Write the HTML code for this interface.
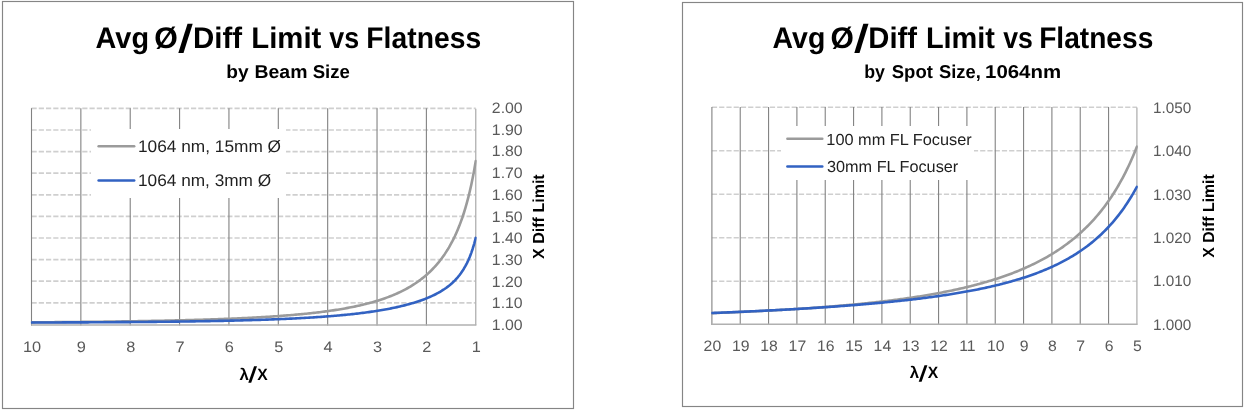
<!DOCTYPE html>
<html><head><meta charset="utf-8"><title>Avg &#216;/Diff Limit vs Flatness</title>
<style>html,body{margin:0;padding:0;background:#fff;}svg{display:block;will-change:transform;}text{font-family:"Liberation Sans", sans-serif;text-rendering:geometricPrecision;}</style></head><body>
<svg width="1246" height="410" viewBox="0 0 1246 410" font-family='"Liberation Sans", sans-serif'>
<rect x="0" y="0" width="1246" height="410" fill="#fff"/>
<rect x="2.50" y="1.50" width="571.00" height="407.00" fill="#fff" stroke="#858585" stroke-width="1.15"/>
<line x1="31.50" y1="108.40" x2="475.75" y2="108.40" stroke="#cfcfcf" stroke-width="1.7" stroke-dasharray="5.2 2.05" stroke-dashoffset="0.00"/>
<line x1="31.50" y1="130.00" x2="475.75" y2="130.00" stroke="#cfcfcf" stroke-width="1.7" stroke-dasharray="5.2 2.05" stroke-dashoffset="0.00"/>
<line x1="31.50" y1="151.60" x2="475.75" y2="151.60" stroke="#cfcfcf" stroke-width="1.7" stroke-dasharray="5.2 2.05" stroke-dashoffset="0.00"/>
<line x1="31.50" y1="173.20" x2="475.75" y2="173.20" stroke="#cfcfcf" stroke-width="1.7" stroke-dasharray="5.2 2.05" stroke-dashoffset="0.00"/>
<line x1="31.50" y1="194.80" x2="475.75" y2="194.80" stroke="#cfcfcf" stroke-width="1.7" stroke-dasharray="5.2 2.05" stroke-dashoffset="0.00"/>
<line x1="31.50" y1="216.40" x2="475.75" y2="216.40" stroke="#cfcfcf" stroke-width="1.7" stroke-dasharray="5.2 2.05" stroke-dashoffset="0.00"/>
<line x1="31.50" y1="238.00" x2="475.75" y2="238.00" stroke="#cfcfcf" stroke-width="1.7" stroke-dasharray="5.2 2.05" stroke-dashoffset="0.00"/>
<line x1="31.50" y1="259.60" x2="475.75" y2="259.60" stroke="#cfcfcf" stroke-width="1.7" stroke-dasharray="5.2 2.05" stroke-dashoffset="0.00"/>
<line x1="31.50" y1="281.20" x2="475.75" y2="281.20" stroke="#cfcfcf" stroke-width="1.7" stroke-dasharray="5.2 2.05" stroke-dashoffset="0.00"/>
<line x1="31.50" y1="302.80" x2="475.75" y2="302.80" stroke="#cfcfcf" stroke-width="1.7" stroke-dasharray="5.2 2.05" stroke-dashoffset="0.00"/>
<line x1="31.50" y1="108.20" x2="31.50" y2="325.60" stroke="#828282" stroke-width="1.1"/>
<line x1="80.86" y1="108.20" x2="80.86" y2="325.60" stroke="#828282" stroke-width="1.1"/>
<line x1="130.22" y1="108.20" x2="130.22" y2="325.60" stroke="#828282" stroke-width="1.1"/>
<line x1="179.58" y1="108.20" x2="179.58" y2="325.60" stroke="#828282" stroke-width="1.1"/>
<line x1="228.94" y1="108.20" x2="228.94" y2="325.60" stroke="#828282" stroke-width="1.1"/>
<line x1="278.31" y1="108.20" x2="278.31" y2="325.60" stroke="#828282" stroke-width="1.1"/>
<line x1="327.67" y1="108.20" x2="327.67" y2="325.60" stroke="#828282" stroke-width="1.1"/>
<line x1="377.03" y1="108.20" x2="377.03" y2="325.60" stroke="#828282" stroke-width="1.1"/>
<line x1="426.39" y1="108.20" x2="426.39" y2="325.60" stroke="#828282" stroke-width="1.1"/>
<line x1="475.75" y1="108.70" x2="475.75" y2="325.30" stroke="#b0b0b0" stroke-width="1.3"/>
<line x1="31.00" y1="324.95" x2="476.35" y2="324.95" stroke="#b0b0b0" stroke-width="1.5"/>
<rect x="91.00" y="129.00" width="195.00" height="69.00" fill="#fff"/>
<clipPath id="clipL"><rect x="30.90" y="106.70" width="445.75" height="220.00"/></clipPath>
<g clip-path="url(#clipL)" fill="none" stroke-width="2.60" stroke-linejoin="round" stroke-linecap="round">
<path d="M31.50 322.36 L32.99 322.35 L34.47 322.34 L35.96 322.32 L37.44 322.31 L38.93 322.30 L40.41 322.29 L41.90 322.28 L43.39 322.27 L44.87 322.26 L46.36 322.24 L47.84 322.23 L49.33 322.22 L50.82 322.21 L52.30 322.20 L53.79 322.18 L55.27 322.17 L56.76 322.16 L58.24 322.14 L59.73 322.13 L61.22 322.12 L62.70 322.10 L64.19 322.09 L65.67 322.08 L67.16 322.06 L68.64 322.05 L70.13 322.03 L71.62 322.02 L73.10 322.01 L74.59 321.99 L76.07 321.98 L77.56 321.96 L79.05 321.95 L80.53 321.93 L82.02 321.91 L83.50 321.90 L84.99 321.88 L86.47 321.87 L87.96 321.85 L89.45 321.83 L90.93 321.82 L92.42 321.80 L93.90 321.78 L95.39 321.77 L96.87 321.75 L98.36 321.73 L99.85 321.71 L101.33 321.69 L102.82 321.68 L104.30 321.66 L105.79 321.64 L107.28 321.62 L108.76 321.60 L110.25 321.58 L111.73 321.56 L113.22 321.54 L114.70 321.52 L116.19 321.50 L117.68 321.48 L119.16 321.46 L120.65 321.44 L122.13 321.41 L123.62 321.39 L125.10 321.37 L126.59 321.35 L128.08 321.32 L129.56 321.30 L131.05 321.28 L132.53 321.25 L134.02 321.23 L135.51 321.21 L136.99 321.18 L138.48 321.16 L139.96 321.13 L141.45 321.11 L142.93 321.08 L144.42 321.05 L145.91 321.03 L147.39 321.00 L148.88 320.97 L150.36 320.94 L151.85 320.92 L153.33 320.89 L154.82 320.86 L156.31 320.83 L157.79 320.80 L159.28 320.77 L160.76 320.74 L162.25 320.71 L163.73 320.68 L165.22 320.65 L166.71 320.61 L168.19 320.58 L169.68 320.55 L171.16 320.51 L172.65 320.48 L174.14 320.45 L175.62 320.41 L177.11 320.38 L178.59 320.34 L180.08 320.30 L181.56 320.27 L183.05 320.23 L184.54 320.19 L186.02 320.15 L187.51 320.11 L188.99 320.07 L190.48 320.03 L191.96 319.99 L193.45 319.95 L194.94 319.91 L196.42 319.87 L197.91 319.82 L199.39 319.78 L200.88 319.74 L202.37 319.69 L203.85 319.64 L205.34 319.60 L206.82 319.55 L208.31 319.50 L209.79 319.45 L211.28 319.40 L212.77 319.35 L214.25 319.30 L215.74 319.25 L217.22 319.20 L218.71 319.14 L220.19 319.09 L221.68 319.04 L223.17 318.98 L224.65 318.92 L226.14 318.86 L227.62 318.81 L229.11 318.75 L230.60 318.69 L232.08 318.62 L233.57 318.56 L235.05 318.50 L236.54 318.43 L238.02 318.37 L239.51 318.30 L241.00 318.23 L242.48 318.16 L243.97 318.09 L245.45 318.02 L246.94 317.95 L248.42 317.88 L249.91 317.80 L251.40 317.72 L252.88 317.65 L254.37 317.57 L255.85 317.49 L257.34 317.41 L258.83 317.32 L260.31 317.24 L261.80 317.15 L263.28 317.06 L264.77 316.97 L266.25 316.88 L267.74 316.79 L269.23 316.70 L270.71 316.60 L272.20 316.50 L273.68 316.40 L275.17 316.30 L276.65 316.20 L278.14 316.10 L279.63 315.99 L281.11 315.88 L282.60 315.77 L284.08 315.66 L285.57 315.54 L287.06 315.42 L288.54 315.31 L290.03 315.18 L291.51 315.06 L293.00 314.93 L294.48 314.80 L295.97 314.67 L297.46 314.54 L298.94 314.40 L300.43 314.26 L301.91 314.12 L303.40 313.98 L304.88 313.83 L306.37 313.68 L307.86 313.52 L309.34 313.37 L310.83 313.21 L312.31 313.04 L313.80 312.88 L315.29 312.71 L316.77 312.53 L318.26 312.35 L319.74 312.17 L321.23 311.99 L322.71 311.80 L324.20 311.61 L325.69 311.41 L327.17 311.21 L328.66 311.00 L330.14 310.79 L331.63 310.58 L333.11 310.36 L334.60 310.13 L336.09 309.90 L337.57 309.67 L339.06 309.43 L340.54 309.18 L342.03 308.93 L343.52 308.67 L345.00 308.41 L346.49 308.14 L347.97 307.86 L349.46 307.58 L350.94 307.29 L352.43 306.99 L353.92 306.69 L355.40 306.38 L356.89 306.06 L358.37 305.73 L359.86 305.40 L361.34 305.06 L362.83 304.71 L364.32 304.35 L365.80 303.98 L367.29 303.60 L368.77 303.21 L370.26 302.81 L371.74 302.40 L373.23 301.98 L374.72 301.55 L376.20 301.11 L377.69 300.65 L379.17 300.19 L380.66 299.71 L382.15 299.22 L383.63 298.71 L385.12 298.19 L386.60 297.65 L388.09 297.10 L389.57 296.53 L391.06 295.95 L392.55 295.35 L394.03 294.73 L395.52 294.09 L397.00 293.44 L398.49 292.76 L399.97 292.07 L401.46 291.35 L402.95 290.61 L404.43 289.84 L405.92 289.05 L407.40 288.24 L408.89 287.40 L410.38 286.53 L411.86 285.63 L413.35 284.70 L414.83 283.74 L416.32 282.74 L417.80 281.71 L419.29 280.64 L420.78 279.54 L422.26 278.39 L423.75 277.20 L425.23 275.97 L426.72 274.69 L428.20 273.35 L429.69 271.97 L431.18 270.53 L432.66 269.03 L434.15 267.47 L435.63 265.83 L437.12 264.13 L438.61 262.36 L440.09 260.50 L441.58 258.56 L443.06 256.52 L444.55 254.39 L446.03 252.15 L447.52 249.80 L449.01 247.32 L450.49 244.72 L451.98 241.97 L453.46 239.06 L454.95 235.99 L456.43 232.73 L457.92 229.27 L459.41 225.59 L460.89 221.66 L462.38 217.47 L463.86 212.98 L465.35 208.16 L466.84 202.98 L468.32 197.38 L469.81 191.31 L471.29 184.72 L472.78 177.53 L474.26 169.66 L475.75 161.00" stroke="#9b9b9b"/>
<path d="M31.50 322.50 L32.99 322.50 L34.47 322.49 L35.96 322.49 L37.44 322.49 L38.93 322.49 L40.41 322.48 L41.90 322.48 L43.39 322.48 L44.87 322.47 L46.36 322.47 L47.84 322.47 L49.33 322.46 L50.82 322.46 L52.30 322.45 L53.79 322.45 L55.27 322.45 L56.76 322.44 L58.24 322.44 L59.73 322.43 L61.22 322.43 L62.70 322.42 L64.19 322.42 L65.67 322.41 L67.16 322.41 L68.64 322.40 L70.13 322.40 L71.62 322.39 L73.10 322.39 L74.59 322.38 L76.07 322.38 L77.56 322.37 L79.05 322.37 L80.53 322.36 L82.02 322.35 L83.50 322.35 L84.99 322.34 L86.47 322.33 L87.96 322.33 L89.45 322.32 L90.93 322.31 L92.42 322.31 L93.90 322.30 L95.39 322.29 L96.87 322.28 L98.36 322.28 L99.85 322.27 L101.33 322.26 L102.82 322.25 L104.30 322.24 L105.79 322.23 L107.28 322.23 L108.76 322.22 L110.25 322.21 L111.73 322.20 L113.22 322.19 L114.70 322.18 L116.19 322.17 L117.68 322.16 L119.16 322.15 L120.65 322.14 L122.13 322.13 L123.62 322.12 L125.10 322.11 L126.59 322.10 L128.08 322.09 L129.56 322.08 L131.05 322.06 L132.53 322.05 L134.02 322.04 L135.51 322.03 L136.99 322.02 L138.48 322.00 L139.96 321.99 L141.45 321.98 L142.93 321.97 L144.42 321.95 L145.91 321.94 L147.39 321.93 L148.88 321.91 L150.36 321.90 L151.85 321.88 L153.33 321.87 L154.82 321.85 L156.31 321.84 L157.79 321.82 L159.28 321.81 L160.76 321.79 L162.25 321.78 L163.73 321.76 L165.22 321.74 L166.71 321.73 L168.19 321.71 L169.68 321.69 L171.16 321.67 L172.65 321.65 L174.14 321.64 L175.62 321.62 L177.11 321.60 L178.59 321.58 L180.08 321.56 L181.56 321.54 L183.05 321.52 L184.54 321.50 L186.02 321.48 L187.51 321.46 L188.99 321.43 L190.48 321.41 L191.96 321.39 L193.45 321.37 L194.94 321.34 L196.42 321.32 L197.91 321.30 L199.39 321.27 L200.88 321.25 L202.37 321.22 L203.85 321.20 L205.34 321.17 L206.82 321.15 L208.31 321.12 L209.79 321.09 L211.28 321.06 L212.77 321.04 L214.25 321.01 L215.74 320.98 L217.22 320.95 L218.71 320.92 L220.19 320.89 L221.68 320.86 L223.17 320.83 L224.65 320.79 L226.14 320.76 L227.62 320.73 L229.11 320.69 L230.60 320.66 L232.08 320.62 L233.57 320.59 L235.05 320.55 L236.54 320.52 L238.02 320.48 L239.51 320.44 L241.00 320.40 L242.48 320.36 L243.97 320.32 L245.45 320.28 L246.94 320.24 L248.42 320.20 L249.91 320.16 L251.40 320.11 L252.88 320.07 L254.37 320.02 L255.85 319.98 L257.34 319.93 L258.83 319.88 L260.31 319.84 L261.80 319.79 L263.28 319.74 L264.77 319.69 L266.25 319.63 L267.74 319.58 L269.23 319.53 L270.71 319.47 L272.20 319.42 L273.68 319.36 L275.17 319.30 L276.65 319.24 L278.14 319.18 L279.63 319.12 L281.11 319.06 L282.60 319.00 L284.08 318.93 L285.57 318.87 L287.06 318.80 L288.54 318.73 L290.03 318.66 L291.51 318.59 L293.00 318.52 L294.48 318.45 L295.97 318.37 L297.46 318.30 L298.94 318.22 L300.43 318.14 L301.91 318.06 L303.40 317.98 L304.88 317.89 L306.37 317.81 L307.86 317.72 L309.34 317.63 L310.83 317.54 L312.31 317.45 L313.80 317.35 L315.29 317.26 L316.77 317.16 L318.26 317.06 L319.74 316.96 L321.23 316.85 L322.71 316.75 L324.20 316.64 L325.69 316.53 L327.17 316.42 L328.66 316.30 L330.14 316.19 L331.63 316.07 L333.11 315.94 L334.60 315.82 L336.09 315.69 L337.57 315.56 L339.06 315.43 L340.54 315.29 L342.03 315.16 L343.52 315.01 L345.00 314.87 L346.49 314.72 L347.97 314.57 L349.46 314.42 L350.94 314.26 L352.43 314.10 L353.92 313.94 L355.40 313.77 L356.89 313.60 L358.37 313.43 L359.86 313.25 L361.34 313.06 L362.83 312.88 L364.32 312.69 L365.80 312.49 L367.29 312.29 L368.77 312.09 L370.26 311.88 L371.74 311.66 L373.23 311.44 L374.72 311.22 L376.20 310.99 L377.69 310.76 L379.17 310.52 L380.66 310.27 L382.15 310.02 L383.63 309.76 L385.12 309.50 L386.60 309.22 L388.09 308.95 L389.57 308.66 L391.06 308.37 L392.55 308.07 L394.03 307.76 L395.52 307.45 L397.00 307.12 L398.49 306.79 L399.97 306.45 L401.46 306.10 L402.95 305.74 L404.43 305.37 L405.92 304.99 L407.40 304.60 L408.89 304.20 L410.38 303.78 L411.86 303.36 L413.35 302.92 L414.83 302.46 L416.32 302.00 L417.80 301.51 L419.29 301.02 L420.78 300.50 L422.26 299.97 L423.75 299.42 L425.23 298.85 L426.72 298.26 L428.20 297.65 L429.69 297.02 L431.18 296.36 L432.66 295.67 L434.15 294.96 L435.63 294.22 L437.12 293.44 L438.61 292.63 L440.09 291.78 L441.58 290.89 L443.06 289.96 L444.55 288.98 L446.03 287.95 L447.52 286.85 L449.01 285.70 L450.49 284.48 L451.98 283.18 L453.46 281.80 L454.95 280.32 L456.43 278.74 L457.92 277.04 L459.41 275.21 L460.89 273.22 L462.38 271.07 L463.86 268.72 L465.35 266.15 L466.84 263.33 L468.32 260.20 L469.81 256.73 L471.29 252.86 L472.78 248.49 L474.26 243.56 L475.75 237.93" stroke="#3262c2"/>
</g>
<line x1="98.60" y1="146.30" x2="134.20" y2="146.30" stroke="#9b9b9b" stroke-width="2.5" stroke-linecap="round"/>
<text x="137.99" y="152.10" font-size="16.90" font-weight="normal" fill="#1f1f1f" text-anchor="start" textLength="143.09" lengthAdjust="spacingAndGlyphs">1064 nm, 15mm &#216;</text>
<line x1="98.60" y1="180.50" x2="134.20" y2="180.50" stroke="#3262c2" stroke-width="2.5" stroke-linecap="round"/>
<text x="137.99" y="186.30" font-size="16.90" font-weight="normal" fill="#1f1f1f" text-anchor="start" textLength="133.18" lengthAdjust="spacingAndGlyphs">1064 nm, 3mm &#216;</text>
<text x="491.86" y="112.80" font-size="15.20" font-weight="normal" fill="#595959" text-anchor="start" textLength="30.80" lengthAdjust="spacingAndGlyphs">2.00</text>
<text x="491.86" y="134.54" font-size="15.20" font-weight="normal" fill="#595959" text-anchor="start" textLength="30.80" lengthAdjust="spacingAndGlyphs">1.90</text>
<text x="491.86" y="156.28" font-size="15.20" font-weight="normal" fill="#595959" text-anchor="start" textLength="30.80" lengthAdjust="spacingAndGlyphs">1.80</text>
<text x="491.86" y="178.02" font-size="15.20" font-weight="normal" fill="#595959" text-anchor="start" textLength="30.80" lengthAdjust="spacingAndGlyphs">1.70</text>
<text x="491.86" y="199.76" font-size="15.20" font-weight="normal" fill="#595959" text-anchor="start" textLength="30.80" lengthAdjust="spacingAndGlyphs">1.60</text>
<text x="491.86" y="221.50" font-size="15.20" font-weight="normal" fill="#595959" text-anchor="start" textLength="30.80" lengthAdjust="spacingAndGlyphs">1.50</text>
<text x="491.86" y="243.24" font-size="15.20" font-weight="normal" fill="#595959" text-anchor="start" textLength="30.80" lengthAdjust="spacingAndGlyphs">1.40</text>
<text x="491.86" y="264.98" font-size="15.20" font-weight="normal" fill="#595959" text-anchor="start" textLength="30.80" lengthAdjust="spacingAndGlyphs">1.30</text>
<text x="491.86" y="286.72" font-size="15.20" font-weight="normal" fill="#595959" text-anchor="start" textLength="30.80" lengthAdjust="spacingAndGlyphs">1.20</text>
<text x="491.86" y="308.46" font-size="15.20" font-weight="normal" fill="#595959" text-anchor="start" textLength="30.80" lengthAdjust="spacingAndGlyphs">1.10</text>
<text x="491.86" y="330.20" font-size="15.20" font-weight="normal" fill="#595959" text-anchor="start" textLength="30.80" lengthAdjust="spacingAndGlyphs">1.00</text>
<text x="32.00" y="351.80" font-size="15.20" font-weight="normal" fill="#595959" text-anchor="middle" textLength="18.19" lengthAdjust="spacingAndGlyphs">10</text>
<text x="81.36" y="351.80" font-size="15.20" font-weight="normal" fill="#595959" text-anchor="middle" textLength="9.10" lengthAdjust="spacingAndGlyphs">9</text>
<text x="130.72" y="351.80" font-size="15.20" font-weight="normal" fill="#595959" text-anchor="middle" textLength="9.10" lengthAdjust="spacingAndGlyphs">8</text>
<text x="180.08" y="351.80" font-size="15.20" font-weight="normal" fill="#595959" text-anchor="middle" textLength="9.10" lengthAdjust="spacingAndGlyphs">7</text>
<text x="229.44" y="351.80" font-size="15.20" font-weight="normal" fill="#595959" text-anchor="middle" textLength="9.10" lengthAdjust="spacingAndGlyphs">6</text>
<text x="278.81" y="351.80" font-size="15.20" font-weight="normal" fill="#595959" text-anchor="middle" textLength="9.10" lengthAdjust="spacingAndGlyphs">5</text>
<text x="328.17" y="351.80" font-size="15.20" font-weight="normal" fill="#595959" text-anchor="middle" textLength="9.10" lengthAdjust="spacingAndGlyphs">4</text>
<text x="377.53" y="351.80" font-size="15.20" font-weight="normal" fill="#595959" text-anchor="middle" textLength="9.10" lengthAdjust="spacingAndGlyphs">3</text>
<text x="426.89" y="351.80" font-size="15.20" font-weight="normal" fill="#595959" text-anchor="middle" textLength="9.10" lengthAdjust="spacingAndGlyphs">2</text>
<text x="476.25" y="351.80" font-size="15.20" font-weight="normal" fill="#595959" text-anchor="middle" textLength="9.10" lengthAdjust="spacingAndGlyphs">1</text>
<polygon points="178.3,52.9 183.5,52.9 192.7,23.7 187.5,23.7" fill="#000"/>
<text x="95.61" y="48.00" font-size="29.80" font-weight="bold" fill="#000" text-anchor="start" textLength="53.43" lengthAdjust="spacingAndGlyphs">Avg</text>
<text x="154.36" y="48.00" font-size="29.80" font-weight="bold" fill="#000" text-anchor="start" textLength="23.58" lengthAdjust="spacingAndGlyphs">&#216;</text>
<text x="192.96" y="48.00" font-size="29.80" font-weight="bold" fill="#000" text-anchor="start" textLength="49.09" lengthAdjust="spacingAndGlyphs">Diff</text>
<text x="251.26" y="48.00" font-size="29.80" font-weight="bold" fill="#000" text-anchor="start" textLength="70.08" lengthAdjust="spacingAndGlyphs">Limit</text>
<text x="329.32" y="48.00" font-size="29.80" font-weight="bold" fill="#000" text-anchor="start" textLength="29.86" lengthAdjust="spacingAndGlyphs">vs</text>
<text x="366.33" y="48.00" font-size="29.80" font-weight="bold" fill="#000" text-anchor="start" textLength="114.80" lengthAdjust="spacingAndGlyphs">Flatness</text>
<text x="226.26" y="78.30" font-size="18.60" font-weight="bold" fill="#000" text-anchor="start" textLength="22.34" lengthAdjust="spacingAndGlyphs">by</text>
<text x="254.52" y="78.30" font-size="18.60" font-weight="bold" fill="#000" text-anchor="start" textLength="52.98" lengthAdjust="spacingAndGlyphs">Beam</text>
<text x="312.68" y="78.30" font-size="18.60" font-weight="bold" fill="#000" text-anchor="start" textLength="37.25" lengthAdjust="spacingAndGlyphs">Size</text>
<text x="239.43" y="379.50" font-size="16.40" font-weight="bold" fill="#000" text-anchor="start" textLength="9.32" lengthAdjust="spacingAndGlyphs">&#955;</text>
<text x="257.37" y="379.50" font-size="16.40" font-weight="bold" fill="#000" text-anchor="start" textLength="10.45" lengthAdjust="spacingAndGlyphs">X</text>
<polygon points="248.30,382.80 251.20,382.80 257.00,366.30 254.10,366.30" fill="#000"/>
<text x="544.50" y="216.60" font-size="16.00" font-weight="bold" fill="#000" text-anchor="middle" textLength="84.60" lengthAdjust="spacingAndGlyphs" transform="rotate(-90 544.50 216.60)">X Diff Limit</text>
<rect x="682.50" y="2.50" width="560.00" height="404.00" fill="#fff" stroke="#858585" stroke-width="1.15"/>
<line x1="711.90" y1="107.25" x2="1136.90" y2="107.25" stroke="#cfcfcf" stroke-width="1.7" stroke-dasharray="5.2 2.05" stroke-dashoffset="0.00"/>
<line x1="711.90" y1="150.75" x2="1136.90" y2="150.75" stroke="#cfcfcf" stroke-width="1.7" stroke-dasharray="5.2 2.05" stroke-dashoffset="0.00"/>
<line x1="711.90" y1="194.25" x2="1136.90" y2="194.25" stroke="#cfcfcf" stroke-width="1.7" stroke-dasharray="5.2 2.05" stroke-dashoffset="0.00"/>
<line x1="711.90" y1="237.75" x2="1136.90" y2="237.75" stroke="#cfcfcf" stroke-width="1.7" stroke-dasharray="5.2 2.05" stroke-dashoffset="0.00"/>
<line x1="711.90" y1="281.25" x2="1136.90" y2="281.25" stroke="#cfcfcf" stroke-width="1.7" stroke-dasharray="5.2 2.05" stroke-dashoffset="0.00"/>
<line x1="711.90" y1="106.90" x2="711.90" y2="325.00" stroke="#828282" stroke-width="1.1"/>
<line x1="740.23" y1="106.90" x2="740.23" y2="325.00" stroke="#828282" stroke-width="1.1"/>
<line x1="768.57" y1="106.90" x2="768.57" y2="325.00" stroke="#828282" stroke-width="1.1"/>
<line x1="796.90" y1="106.90" x2="796.90" y2="325.00" stroke="#828282" stroke-width="1.1"/>
<line x1="825.23" y1="106.90" x2="825.23" y2="325.00" stroke="#828282" stroke-width="1.1"/>
<line x1="853.57" y1="106.90" x2="853.57" y2="325.00" stroke="#828282" stroke-width="1.1"/>
<line x1="881.90" y1="106.90" x2="881.90" y2="325.00" stroke="#828282" stroke-width="1.1"/>
<line x1="910.23" y1="106.90" x2="910.23" y2="325.00" stroke="#828282" stroke-width="1.1"/>
<line x1="938.57" y1="106.90" x2="938.57" y2="325.00" stroke="#828282" stroke-width="1.1"/>
<line x1="966.90" y1="106.90" x2="966.90" y2="325.00" stroke="#828282" stroke-width="1.1"/>
<line x1="995.23" y1="106.90" x2="995.23" y2="325.00" stroke="#828282" stroke-width="1.1"/>
<line x1="1023.57" y1="106.90" x2="1023.57" y2="325.00" stroke="#828282" stroke-width="1.1"/>
<line x1="1051.90" y1="106.90" x2="1051.90" y2="325.00" stroke="#828282" stroke-width="1.1"/>
<line x1="1080.23" y1="106.90" x2="1080.23" y2="325.00" stroke="#828282" stroke-width="1.1"/>
<line x1="1108.57" y1="106.90" x2="1108.57" y2="325.00" stroke="#828282" stroke-width="1.1"/>
<line x1="1136.90" y1="107.40" x2="1136.90" y2="324.70" stroke="#b0b0b0" stroke-width="1.3"/>
<line x1="711.40" y1="324.35" x2="1137.50" y2="324.35" stroke="#b0b0b0" stroke-width="1.5"/>
<rect x="781.00" y="126.00" width="193.00" height="54.00" fill="#fff"/>
<clipPath id="clipR"><rect x="711.30" y="105.40" width="426.50" height="220.70"/></clipPath>
<g clip-path="url(#clipR)" fill="none" stroke-width="2.60" stroke-linejoin="round" stroke-linecap="round">
<path d="M711.90 313.14 L713.32 313.09 L714.74 313.04 L716.16 312.98 L717.59 312.93 L719.01 312.87 L720.43 312.82 L721.85 312.76 L723.27 312.70 L724.69 312.64 L726.11 312.59 L727.54 312.53 L728.96 312.47 L730.38 312.41 L731.80 312.35 L733.22 312.29 L734.64 312.23 L736.06 312.17 L737.49 312.11 L738.91 312.04 L740.33 311.98 L741.75 311.92 L743.17 311.85 L744.59 311.79 L746.01 311.72 L747.44 311.66 L748.86 311.59 L750.28 311.52 L751.70 311.46 L753.12 311.39 L754.54 311.32 L755.96 311.25 L757.38 311.18 L758.81 311.11 L760.23 311.04 L761.65 310.97 L763.07 310.89 L764.49 310.82 L765.91 310.75 L767.33 310.67 L768.76 310.60 L770.18 310.52 L771.60 310.44 L773.02 310.37 L774.44 310.29 L775.86 310.21 L777.28 310.13 L778.71 310.05 L780.13 309.97 L781.55 309.89 L782.97 309.80 L784.39 309.72 L785.81 309.64 L787.23 309.55 L788.66 309.47 L790.08 309.38 L791.50 309.29 L792.92 309.21 L794.34 309.12 L795.76 309.03 L797.18 308.94 L798.61 308.85 L800.03 308.75 L801.45 308.66 L802.87 308.57 L804.29 308.47 L805.71 308.38 L807.13 308.28 L808.56 308.18 L809.98 308.08 L811.40 307.98 L812.82 307.88 L814.24 307.78 L815.66 307.68 L817.08 307.58 L818.51 307.47 L819.93 307.37 L821.35 307.26 L822.77 307.15 L824.19 307.04 L825.61 306.93 L827.03 306.82 L828.46 306.71 L829.88 306.60 L831.30 306.48 L832.72 306.37 L834.14 306.25 L835.56 306.13 L836.98 306.01 L838.41 305.89 L839.83 305.77 L841.25 305.65 L842.67 305.53 L844.09 305.40 L845.51 305.27 L846.93 305.15 L848.35 305.02 L849.78 304.89 L851.20 304.76 L852.62 304.62 L854.04 304.49 L855.46 304.35 L856.88 304.21 L858.30 304.08 L859.73 303.94 L861.15 303.79 L862.57 303.65 L863.99 303.51 L865.41 303.36 L866.83 303.21 L868.25 303.06 L869.68 302.91 L871.10 302.76 L872.52 302.60 L873.94 302.45 L875.36 302.29 L876.78 302.13 L878.20 301.97 L879.63 301.81 L881.05 301.64 L882.47 301.48 L883.89 301.31 L885.31 301.14 L886.73 300.96 L888.15 300.79 L889.58 300.61 L891.00 300.44 L892.42 300.26 L893.84 300.07 L895.26 299.89 L896.68 299.70 L898.10 299.52 L899.53 299.32 L900.95 299.13 L902.37 298.94 L903.79 298.74 L905.21 298.54 L906.63 298.34 L908.05 298.13 L909.48 297.93 L910.90 297.72 L912.32 297.51 L913.74 297.29 L915.16 297.08 L916.58 296.86 L918.00 296.64 L919.43 296.41 L920.85 296.19 L922.27 295.96 L923.69 295.72 L925.11 295.49 L926.53 295.25 L927.95 295.01 L929.37 294.77 L930.80 294.52 L932.22 294.27 L933.64 294.02 L935.06 293.76 L936.48 293.50 L937.90 293.24 L939.32 292.97 L940.75 292.70 L942.17 292.43 L943.59 292.15 L945.01 291.88 L946.43 291.59 L947.85 291.31 L949.27 291.01 L950.70 290.72 L952.12 290.42 L953.54 290.12 L954.96 289.82 L956.38 289.51 L957.80 289.19 L959.22 288.87 L960.65 288.55 L962.07 288.23 L963.49 287.89 L964.91 287.56 L966.33 287.22 L967.75 286.88 L969.17 286.53 L970.60 286.17 L972.02 285.81 L973.44 285.45 L974.86 285.08 L976.28 284.71 L977.70 284.33 L979.12 283.95 L980.55 283.56 L981.97 283.16 L983.39 282.76 L984.81 282.36 L986.23 281.95 L987.65 281.53 L989.07 281.10 L990.50 280.67 L991.92 280.24 L993.34 279.80 L994.76 279.35 L996.18 278.89 L997.60 278.43 L999.02 277.96 L1000.45 277.49 L1001.87 277.00 L1003.29 276.51 L1004.71 276.02 L1006.13 275.51 L1007.55 275.00 L1008.97 274.48 L1010.39 273.95 L1011.82 273.41 L1013.24 272.87 L1014.66 272.31 L1016.08 271.75 L1017.50 271.18 L1018.92 270.60 L1020.34 270.01 L1021.77 269.41 L1023.19 268.81 L1024.61 268.19 L1026.03 267.56 L1027.45 266.92 L1028.87 266.27 L1030.29 265.61 L1031.72 264.94 L1033.14 264.26 L1034.56 263.56 L1035.98 262.86 L1037.40 262.14 L1038.82 261.41 L1040.24 260.67 L1041.67 259.91 L1043.09 259.15 L1044.51 258.36 L1045.93 257.57 L1047.35 256.76 L1048.77 255.93 L1050.19 255.10 L1051.62 254.24 L1053.04 253.37 L1054.46 252.48 L1055.88 251.58 L1057.30 250.66 L1058.72 249.73 L1060.14 248.77 L1061.57 247.80 L1062.99 246.81 L1064.41 245.80 L1065.83 244.77 L1067.25 243.72 L1068.67 242.64 L1070.09 241.55 L1071.52 240.44 L1072.94 239.30 L1074.36 238.14 L1075.78 236.95 L1077.20 235.75 L1078.62 234.51 L1080.04 233.25 L1081.47 231.96 L1082.89 230.65 L1084.31 229.30 L1085.73 227.93 L1087.15 226.53 L1088.57 225.09 L1089.99 223.62 L1091.42 222.12 L1092.84 220.59 L1094.26 219.02 L1095.68 217.41 L1097.10 215.77 L1098.52 214.08 L1099.94 212.35 L1101.36 210.59 L1102.79 208.78 L1104.21 206.92 L1105.63 205.02 L1107.05 203.06 L1108.47 201.06 L1109.89 199.01 L1111.31 196.90 L1112.74 194.73 L1114.16 192.51 L1115.58 190.23 L1117.00 187.88 L1118.42 185.47 L1119.84 182.98 L1121.26 180.43 L1122.69 177.80 L1124.11 175.10 L1125.53 172.31 L1126.95 169.44 L1128.37 166.48 L1129.79 163.43 L1131.21 160.28 L1132.64 157.03 L1134.06 153.68 L1135.48 150.21 L1136.90 146.63" stroke="#9b9b9b"/>
<path d="M711.90 313.02 L713.32 312.97 L714.74 312.91 L716.16 312.85 L717.59 312.80 L719.01 312.74 L720.43 312.68 L721.85 312.62 L723.27 312.57 L724.69 312.51 L726.11 312.45 L727.54 312.39 L728.96 312.33 L730.38 312.27 L731.80 312.21 L733.22 312.15 L734.64 312.09 L736.06 312.03 L737.49 311.96 L738.91 311.90 L740.33 311.84 L741.75 311.78 L743.17 311.71 L744.59 311.65 L746.01 311.59 L747.44 311.52 L748.86 311.46 L750.28 311.39 L751.70 311.32 L753.12 311.26 L754.54 311.19 L755.96 311.12 L757.38 311.06 L758.81 310.99 L760.23 310.92 L761.65 310.85 L763.07 310.78 L764.49 310.71 L765.91 310.64 L767.33 310.57 L768.76 310.50 L770.18 310.42 L771.60 310.35 L773.02 310.28 L774.44 310.21 L775.86 310.13 L777.28 310.06 L778.71 309.98 L780.13 309.91 L781.55 309.83 L782.97 309.75 L784.39 309.68 L785.81 309.60 L787.23 309.52 L788.66 309.44 L790.08 309.36 L791.50 309.28 L792.92 309.20 L794.34 309.12 L795.76 309.04 L797.18 308.96 L798.61 308.87 L800.03 308.79 L801.45 308.71 L802.87 308.62 L804.29 308.54 L805.71 308.45 L807.13 308.36 L808.56 308.28 L809.98 308.19 L811.40 308.10 L812.82 308.01 L814.24 307.92 L815.66 307.83 L817.08 307.74 L818.51 307.65 L819.93 307.55 L821.35 307.46 L822.77 307.36 L824.19 307.27 L825.61 307.17 L827.03 307.08 L828.46 306.98 L829.88 306.88 L831.30 306.78 L832.72 306.68 L834.14 306.58 L835.56 306.48 L836.98 306.38 L838.41 306.28 L839.83 306.17 L841.25 306.07 L842.67 305.96 L844.09 305.86 L845.51 305.75 L846.93 305.64 L848.35 305.53 L849.78 305.42 L851.20 305.31 L852.62 305.20 L854.04 305.08 L855.46 304.97 L856.88 304.86 L858.30 304.74 L859.73 304.62 L861.15 304.51 L862.57 304.39 L863.99 304.27 L865.41 304.15 L866.83 304.02 L868.25 303.90 L869.68 303.78 L871.10 303.65 L872.52 303.52 L873.94 303.40 L875.36 303.27 L876.78 303.14 L878.20 303.01 L879.63 302.87 L881.05 302.74 L882.47 302.61 L883.89 302.47 L885.31 302.33 L886.73 302.19 L888.15 302.05 L889.58 301.91 L891.00 301.77 L892.42 301.62 L893.84 301.48 L895.26 301.33 L896.68 301.18 L898.10 301.03 L899.53 300.88 L900.95 300.73 L902.37 300.57 L903.79 300.42 L905.21 300.26 L906.63 300.10 L908.05 299.94 L909.48 299.78 L910.90 299.61 L912.32 299.45 L913.74 299.28 L915.16 299.11 L916.58 298.94 L918.00 298.77 L919.43 298.59 L920.85 298.42 L922.27 298.24 L923.69 298.06 L925.11 297.88 L926.53 297.69 L927.95 297.50 L929.37 297.32 L930.80 297.13 L932.22 296.93 L933.64 296.74 L935.06 296.54 L936.48 296.34 L937.90 296.14 L939.32 295.94 L940.75 295.73 L942.17 295.52 L943.59 295.31 L945.01 295.10 L946.43 294.88 L947.85 294.67 L949.27 294.44 L950.70 294.22 L952.12 293.99 L953.54 293.77 L954.96 293.53 L956.38 293.30 L957.80 293.06 L959.22 292.82 L960.65 292.58 L962.07 292.33 L963.49 292.08 L964.91 291.83 L966.33 291.57 L967.75 291.32 L969.17 291.05 L970.60 290.79 L972.02 290.52 L973.44 290.25 L974.86 289.97 L976.28 289.69 L977.70 289.41 L979.12 289.12 L980.55 288.83 L981.97 288.53 L983.39 288.23 L984.81 287.93 L986.23 287.62 L987.65 287.31 L989.07 287.00 L990.50 286.67 L991.92 286.35 L993.34 286.02 L994.76 285.69 L996.18 285.35 L997.60 285.00 L999.02 284.65 L1000.45 284.30 L1001.87 283.94 L1003.29 283.58 L1004.71 283.21 L1006.13 282.83 L1007.55 282.45 L1008.97 282.06 L1010.39 281.67 L1011.82 281.27 L1013.24 280.87 L1014.66 280.45 L1016.08 280.04 L1017.50 279.61 L1018.92 279.18 L1020.34 278.74 L1021.77 278.30 L1023.19 277.85 L1024.61 277.39 L1026.03 276.92 L1027.45 276.44 L1028.87 275.96 L1030.29 275.47 L1031.72 274.97 L1033.14 274.46 L1034.56 273.95 L1035.98 273.42 L1037.40 272.89 L1038.82 272.35 L1040.24 271.79 L1041.67 271.23 L1043.09 270.66 L1044.51 270.07 L1045.93 269.48 L1047.35 268.88 L1048.77 268.26 L1050.19 267.63 L1051.62 267.00 L1053.04 266.35 L1054.46 265.68 L1055.88 265.01 L1057.30 264.32 L1058.72 263.62 L1060.14 262.91 L1061.57 262.18 L1062.99 261.43 L1064.41 260.68 L1065.83 259.90 L1067.25 259.12 L1068.67 258.31 L1070.09 257.49 L1071.52 256.65 L1072.94 255.80 L1074.36 254.93 L1075.78 254.04 L1077.20 253.13 L1078.62 252.20 L1080.04 251.25 L1081.47 250.28 L1082.89 249.29 L1084.31 248.28 L1085.73 247.24 L1087.15 246.19 L1088.57 245.11 L1089.99 244.00 L1091.42 242.87 L1092.84 241.71 L1094.26 240.53 L1095.68 239.32 L1097.10 238.08 L1098.52 236.81 L1099.94 235.51 L1101.36 234.18 L1102.79 232.81 L1104.21 231.42 L1105.63 229.98 L1107.05 228.52 L1108.47 227.01 L1109.89 225.47 L1111.31 223.89 L1112.74 222.27 L1114.16 220.60 L1115.58 218.89 L1117.00 217.14 L1118.42 215.34 L1119.84 213.49 L1121.26 211.60 L1122.69 209.65 L1124.11 207.64 L1125.53 205.59 L1126.95 203.47 L1128.37 201.29 L1129.79 199.06 L1131.21 196.75 L1132.64 194.39 L1134.06 191.95 L1135.48 189.44 L1136.90 186.85" stroke="#3262c2"/>
</g>
<line x1="787.40" y1="138.80" x2="822.30" y2="138.80" stroke="#9b9b9b" stroke-width="2.5" stroke-linecap="round"/>
<text x="826.36" y="144.65" font-size="16.10" font-weight="normal" fill="#1f1f1f" text-anchor="start" textLength="145.40" lengthAdjust="spacingAndGlyphs">100 mm FL Focuser</text>
<line x1="787.40" y1="166.40" x2="822.30" y2="166.40" stroke="#3262c2" stroke-width="2.5" stroke-linecap="round"/>
<text x="826.98" y="172.00" font-size="16.10" font-weight="normal" fill="#1f1f1f" text-anchor="start" textLength="131.28" lengthAdjust="spacingAndGlyphs">30mm FL Focuser</text>
<text x="1153.09" y="112.95" font-size="15.20" font-weight="normal" fill="#595959" text-anchor="start" textLength="38.30" lengthAdjust="spacingAndGlyphs">1.050</text>
<text x="1153.09" y="156.29" font-size="15.20" font-weight="normal" fill="#595959" text-anchor="start" textLength="38.30" lengthAdjust="spacingAndGlyphs">1.040</text>
<text x="1153.09" y="199.63" font-size="15.20" font-weight="normal" fill="#595959" text-anchor="start" textLength="38.30" lengthAdjust="spacingAndGlyphs">1.030</text>
<text x="1153.09" y="242.97" font-size="15.20" font-weight="normal" fill="#595959" text-anchor="start" textLength="38.30" lengthAdjust="spacingAndGlyphs">1.020</text>
<text x="1153.09" y="286.31" font-size="15.20" font-weight="normal" fill="#595959" text-anchor="start" textLength="38.30" lengthAdjust="spacingAndGlyphs">1.010</text>
<text x="1153.09" y="329.65" font-size="15.20" font-weight="normal" fill="#595959" text-anchor="start" textLength="38.30" lengthAdjust="spacingAndGlyphs">1.000</text>
<text x="712.40" y="350.60" font-size="15.20" font-weight="normal" fill="#595959" text-anchor="middle" textLength="17.58" lengthAdjust="spacingAndGlyphs">20</text>
<text x="740.73" y="350.60" font-size="15.20" font-weight="normal" fill="#595959" text-anchor="middle" textLength="17.58" lengthAdjust="spacingAndGlyphs">19</text>
<text x="769.07" y="350.60" font-size="15.20" font-weight="normal" fill="#595959" text-anchor="middle" textLength="17.58" lengthAdjust="spacingAndGlyphs">18</text>
<text x="797.40" y="350.60" font-size="15.20" font-weight="normal" fill="#595959" text-anchor="middle" textLength="17.58" lengthAdjust="spacingAndGlyphs">17</text>
<text x="825.73" y="350.60" font-size="15.20" font-weight="normal" fill="#595959" text-anchor="middle" textLength="17.58" lengthAdjust="spacingAndGlyphs">16</text>
<text x="854.07" y="350.60" font-size="15.20" font-weight="normal" fill="#595959" text-anchor="middle" textLength="17.58" lengthAdjust="spacingAndGlyphs">15</text>
<text x="882.40" y="350.60" font-size="15.20" font-weight="normal" fill="#595959" text-anchor="middle" textLength="17.58" lengthAdjust="spacingAndGlyphs">14</text>
<text x="910.73" y="350.60" font-size="15.20" font-weight="normal" fill="#595959" text-anchor="middle" textLength="17.58" lengthAdjust="spacingAndGlyphs">13</text>
<text x="939.07" y="350.60" font-size="15.20" font-weight="normal" fill="#595959" text-anchor="middle" textLength="17.58" lengthAdjust="spacingAndGlyphs">12</text>
<text x="967.40" y="350.60" font-size="15.20" font-weight="normal" fill="#595959" text-anchor="middle" textLength="16.41" lengthAdjust="spacingAndGlyphs">11</text>
<text x="995.73" y="350.60" font-size="15.20" font-weight="normal" fill="#595959" text-anchor="middle" textLength="17.58" lengthAdjust="spacingAndGlyphs">10</text>
<text x="1024.07" y="350.60" font-size="15.20" font-weight="normal" fill="#595959" text-anchor="middle" textLength="8.79" lengthAdjust="spacingAndGlyphs">9</text>
<text x="1052.40" y="350.60" font-size="15.20" font-weight="normal" fill="#595959" text-anchor="middle" textLength="8.79" lengthAdjust="spacingAndGlyphs">8</text>
<text x="1080.73" y="350.60" font-size="15.20" font-weight="normal" fill="#595959" text-anchor="middle" textLength="8.79" lengthAdjust="spacingAndGlyphs">7</text>
<text x="1109.07" y="350.60" font-size="15.20" font-weight="normal" fill="#595959" text-anchor="middle" textLength="8.79" lengthAdjust="spacingAndGlyphs">6</text>
<text x="1137.40" y="350.60" font-size="15.20" font-weight="normal" fill="#595959" text-anchor="middle" textLength="8.79" lengthAdjust="spacingAndGlyphs">5</text>
<polygon points="854.3,52.9 859.5,52.9 868.5,23.7 863.3,23.7" fill="#000"/>
<text x="772.62" y="48.00" font-size="29.80" font-weight="bold" fill="#000" text-anchor="start" textLength="52.69" lengthAdjust="spacingAndGlyphs">Avg</text>
<text x="830.57" y="48.00" font-size="29.80" font-weight="bold" fill="#000" text-anchor="start" textLength="23.36" lengthAdjust="spacingAndGlyphs">&#216;</text>
<text x="868.37" y="48.00" font-size="29.80" font-weight="bold" fill="#000" text-anchor="start" textLength="48.67" lengthAdjust="spacingAndGlyphs">Diff</text>
<text x="925.89" y="48.00" font-size="29.80" font-weight="bold" fill="#000" text-anchor="start" textLength="69.15" lengthAdjust="spacingAndGlyphs">Limit</text>
<text x="1003.22" y="48.00" font-size="29.80" font-weight="bold" fill="#000" text-anchor="start" textLength="29.65" lengthAdjust="spacingAndGlyphs">vs</text>
<text x="1039.14" y="48.00" font-size="29.80" font-weight="bold" fill="#000" text-anchor="start" textLength="114.19" lengthAdjust="spacingAndGlyphs">Flatness</text>
<text x="864.24" y="78.30" font-size="18.60" font-weight="bold" fill="#000" text-anchor="start" textLength="20.74" lengthAdjust="spacingAndGlyphs">by</text>
<text x="891.78" y="78.30" font-size="18.60" font-weight="bold" fill="#000" text-anchor="start" textLength="41.14" lengthAdjust="spacingAndGlyphs">Spot</text>
<text x="938.99" y="78.30" font-size="18.60" font-weight="bold" fill="#000" text-anchor="start" textLength="41.74" lengthAdjust="spacingAndGlyphs">Size,</text>
<text x="985.03" y="78.30" font-size="18.60" font-weight="bold" fill="#000" text-anchor="start" textLength="76.13" lengthAdjust="spacingAndGlyphs">1064nm</text>
<text x="909.83" y="378.40" font-size="16.40" font-weight="bold" fill="#000" text-anchor="start" textLength="9.32" lengthAdjust="spacingAndGlyphs">&#955;</text>
<text x="927.77" y="378.40" font-size="16.40" font-weight="bold" fill="#000" text-anchor="start" textLength="10.45" lengthAdjust="spacingAndGlyphs">X</text>
<polygon points="918.70,381.70 921.60,381.70 927.40,365.20 924.50,365.20" fill="#000"/>
<text x="1214.40" y="216.00" font-size="16.00" font-weight="bold" fill="#000" text-anchor="middle" textLength="83.60" lengthAdjust="spacingAndGlyphs" transform="rotate(-90 1214.40 216.00)">X Diff Limit</text>
</svg></body></html>
